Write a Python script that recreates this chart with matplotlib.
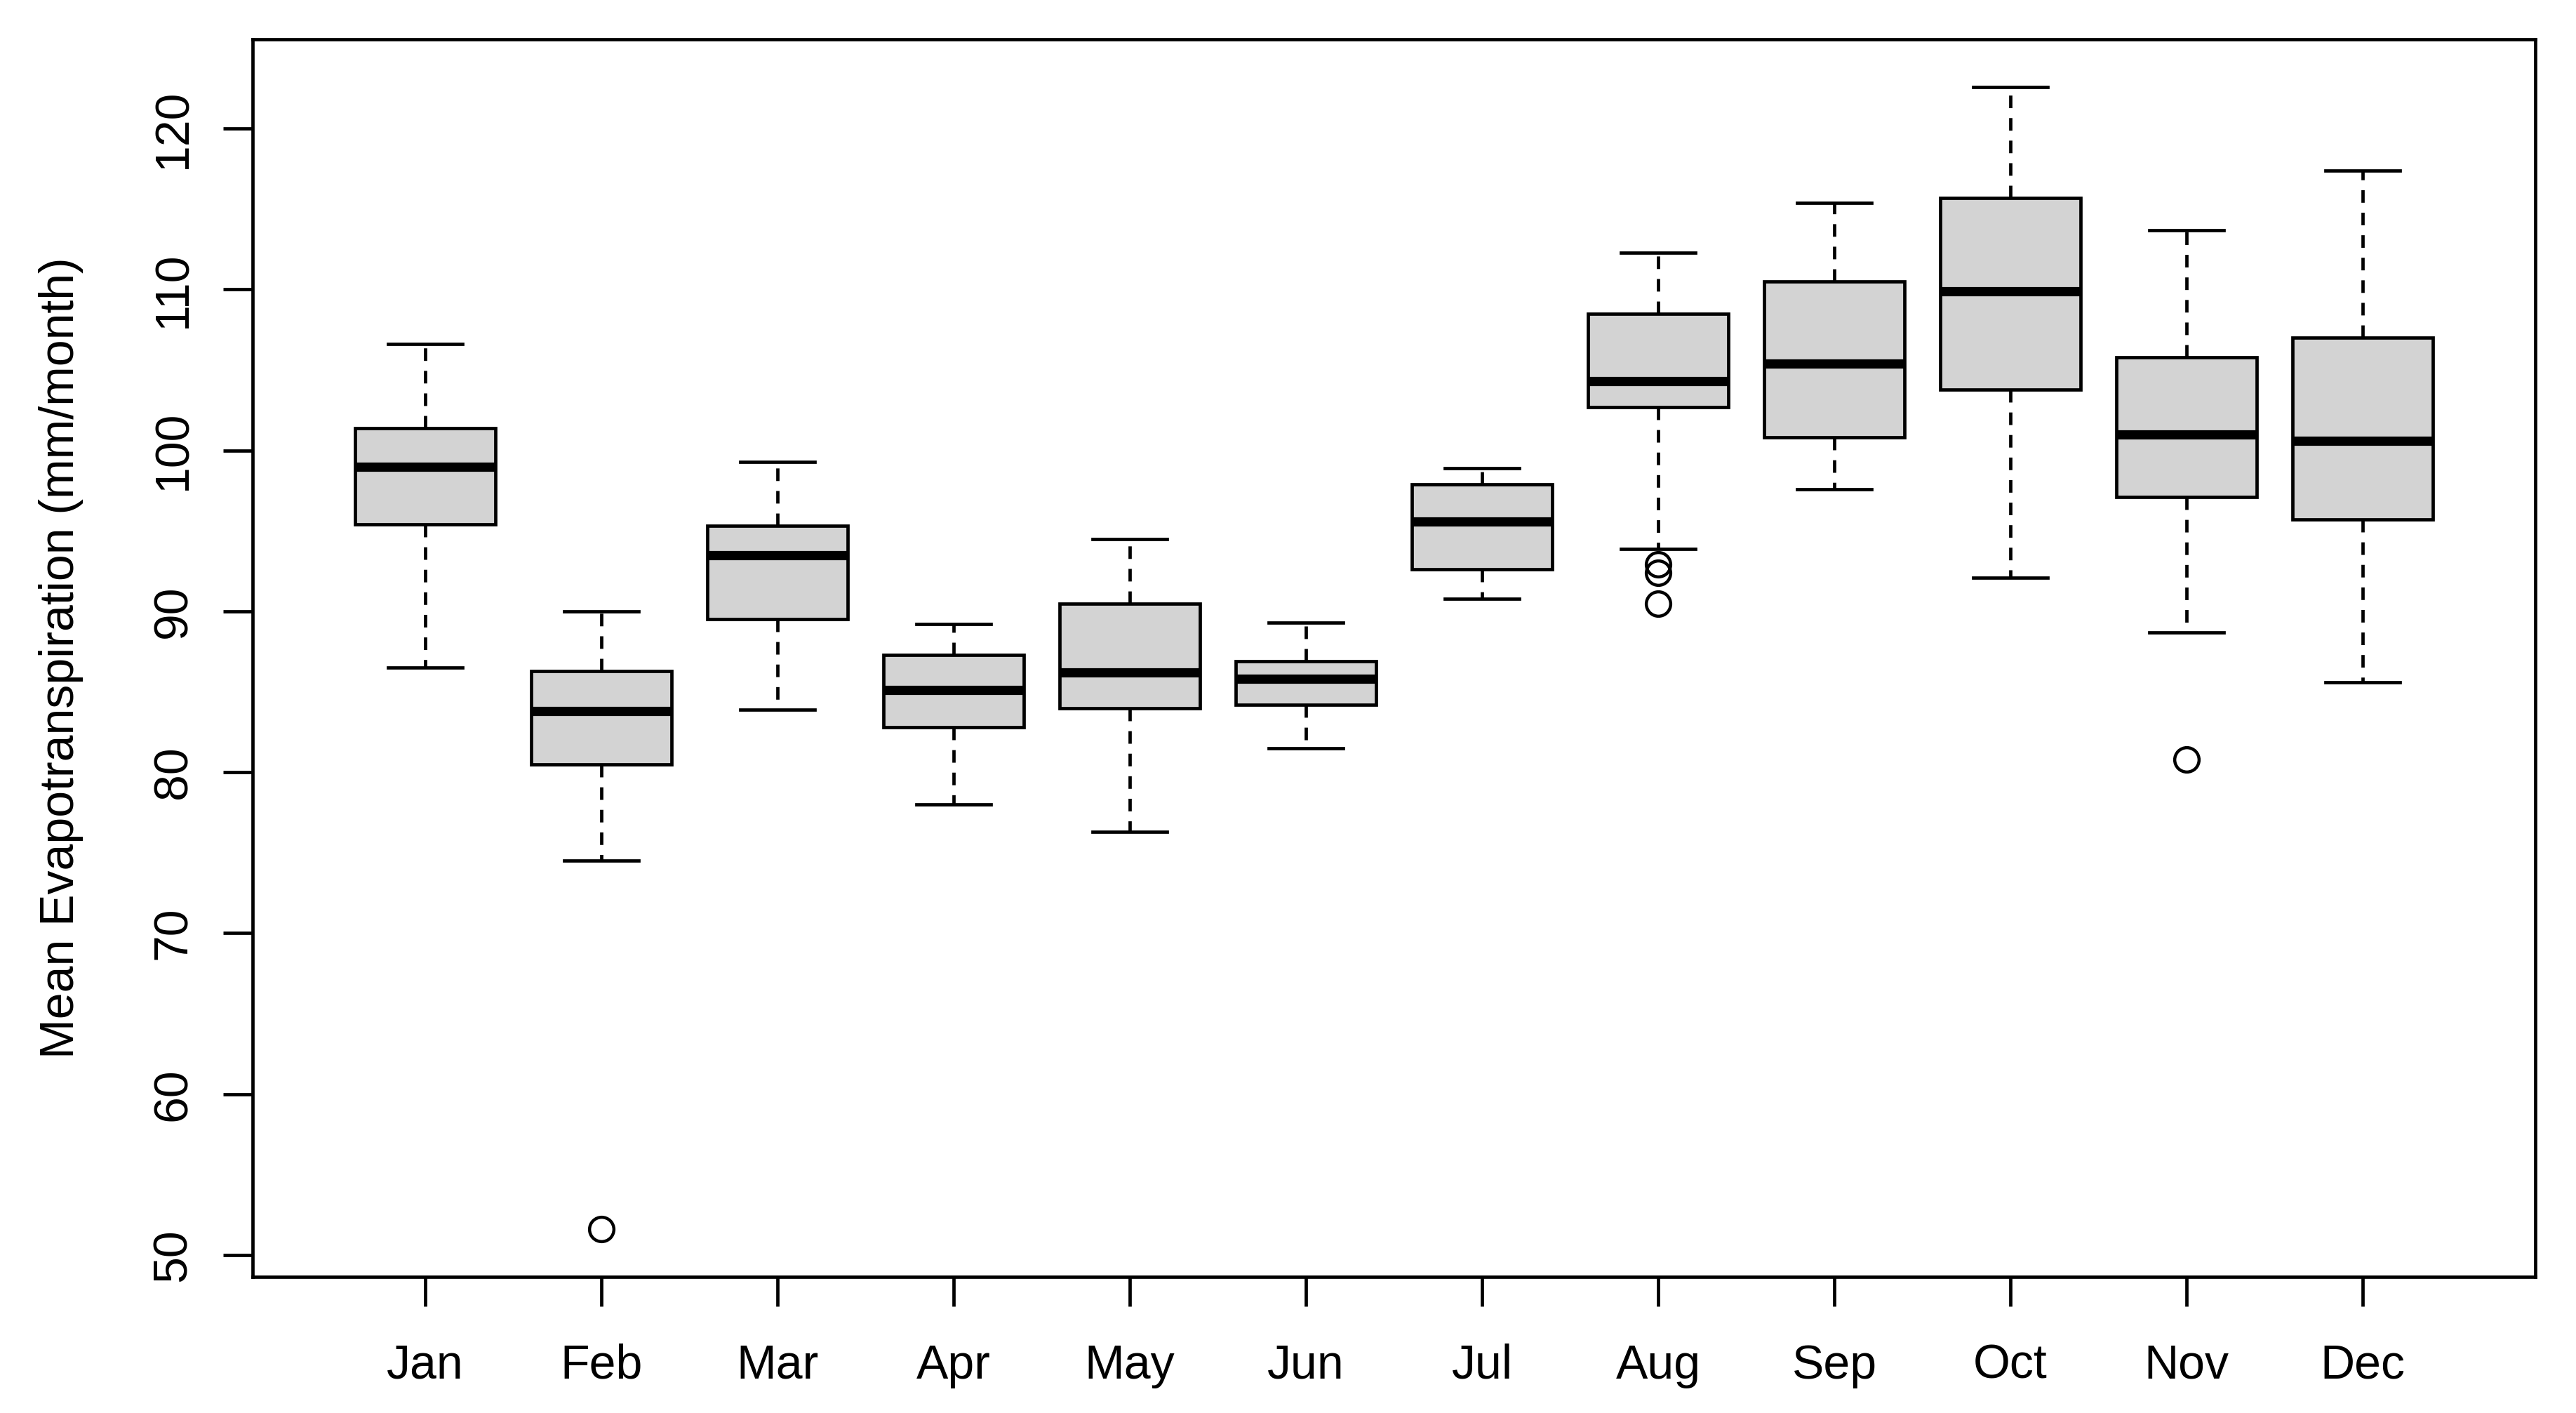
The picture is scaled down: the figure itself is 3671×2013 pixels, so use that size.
import matplotlib
matplotlib.use("Agg")
import matplotlib.pyplot as plt
import numpy as np

# monthly evapotranspiration box stats
months = ["Jan", "Feb", "Mar", "Apr", "May", "Jun",
          "Jul", "Aug", "Sep", "Oct", "Nov", "Dec"]
whis_lo = [86.5, 74.5, 83.9, 78.0, 76.3, 81.5, 90.8, 93.9, 97.6, 92.1, 88.7, 85.6]
q1 = [95.4, 80.5, 89.5, 82.8, 84.0, 84.2, 92.6, 102.7, 100.8, 103.8, 97.1, 95.7]
med = [99.0, 83.8, 93.5, 85.1, 86.2, 85.8, 95.6, 104.3, 105.4, 109.9, 101.0, 100.6]
q3 = [101.4, 86.3, 95.3, 87.3, 90.5, 86.9, 97.9, 108.5, 110.5, 115.7, 105.8, 107.0]
whis_hi = [106.6, 90.0, 99.3, 89.2, 94.5, 89.3, 98.9, 112.3, 115.4, 122.6, 113.7, 117.4]
outliers = [[], [51.6], [], [], [], [], [], [92.9, 92.4, 90.5], [], [], [80.8], []]


def main():
    plt.rcParams['font.family'] = ['Liberation Sans', 'DejaVu Sans']
    fig = plt.figure(figsize=(36.71, 20.13), dpi=100)
    # axes box placed to match the reference (pixels 360..3613 x, 56..1819 y)
    ax = fig.add_axes([0.0981, 0.0964, 0.8861, 0.8758])

    stats = []
    for i in range(len(months)):
        stats.append({"whislo": whis_lo[i], "q1": q1[i], "med": med[i],
                      "q3": q3[i], "whishi": whis_hi[i], "fliers": outliers[i],
                      "label": months[i]})

    lw = 3.4
    ax.bxp(stats, positions=np.arange(1, 13), widths=0.8, patch_artist=True,
           boxprops=dict(facecolor="#d3d3d3", edgecolor="black", linewidth=lw),
           medianprops=dict(color="black", linewidth=9.5, solid_capstyle="butt"),
           whiskerprops=dict(color="black", linewidth=lw, linestyle=(0, (3.8, 3.0))),
           capprops=dict(color="black", linewidth=lw),
           flierprops=dict(marker="o", markersize=25, markerfacecolor="none",
                           markeredgecolor="black", markeredgewidth=3.2),
           capwidths=0.42)

    ax.set_xlim(0.02, 12.98)
    ax.set_ylim(48.65, 125.55)
    ax.set_yticks([50, 60, 70, 80, 90, 100, 110, 120])
    ax.set_xticks(np.arange(1, 13))
    ax.set_xticklabels(months)
    ax.tick_params(axis="both", labelsize=49, length=42 * 0.72, width=lw)
    ax.tick_params(axis="x", pad=38)
    ax.tick_params(axis="y", pad=28)
    for lab in ax.get_yticklabels():
        lab.set_rotation(90)
        lab.set_verticalalignment("center")
    for sp in ax.spines.values():
        sp.set_linewidth(lw)
    ax.set_ylabel("Mean Evapotranspiration (mm/month)", fontsize=49)
    ax.yaxis.label.set_verticalalignment("center")
    ax.yaxis.set_label_coords(-0.0839, 0.5)

    fig.savefig("out.png", dpi=100)


if __name__ == "__main__":
    main()
